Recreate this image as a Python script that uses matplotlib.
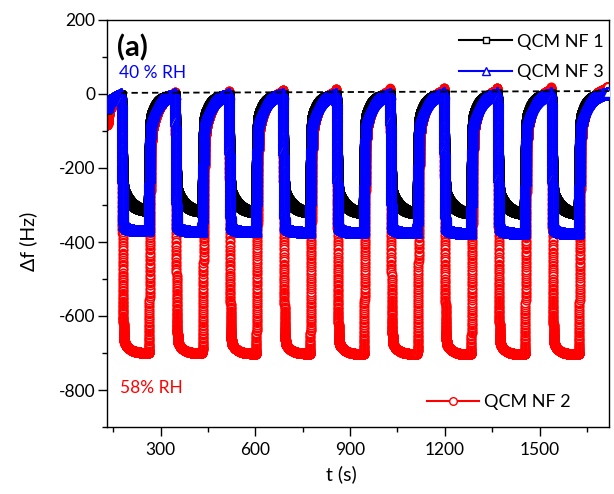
import numpy as np
import matplotlib
matplotlib.use("Agg")
import matplotlib.pyplot as plt
from matplotlib.lines import Line2D
from matplotlib.ticker import MultipleLocator

plt.rcParams['font.family'] = ['Lato', 'DejaVu Sans']
plt.rcParams['axes.unicode_minus'] = False

# ---------------- data ----------------
t_start = 130.0
t_end = 1718.0
# times (s) of the recovery maxima (just before each humidity pulse)
peak_times = [175, 345, 515, 686, 856, 1026, 1196, 1366, 1537, 1712]

# QCM NF 1 (black, 40 % RH)
nf1_peak = [-2, -3, -3, -2, -2, -1, -1, 0, 0, 0]
nf1_fast = [-245, -248, -250, -252, -252, -254, -255, -256, -256]
nf1_end = [-316, -318, -320, -320, -322, -323, -323, -324, -324]
nf1_start = -40

# QCM NF 3 (blue, 40 % RH)
nf3_peak = [2, 3, 3, 4, 4, 4, 5, 5, 5, 6]
nf3_fast = [-340, -342, -343, -344, -345, -345, -346, -346, -347]
nf3_end = [-368, -370, -371, -372, -373, -374, -375, -375, -376]
nf3_start = -35

# QCM NF 2 (red, 58 % RH)
nf2_peak = [0, 5, 8, 12, 14, 15, 16, 17, 18, 20]
nf2_fast = [-650, -652, -654, -655, -655, -656, -656, -657, -657]
nf2_end = [-700, -701, -702, -702, -703, -703, -704, -704, -704]
nf2_start = -85

# dashed baseline
base_t = [175, 1720]
base_y = [3, 8]

x_ticks = [300, 600, 900, 1200, 1500]
y_ticks = [-800, -600, -400, -200, 0, 200]


# ---------------- sensor response between the read levels ----------------
def time_grid(t_low, dt_fine):
    parts = [np.arange(t_start, t_end, 0.1)]
    for P in peak_times[:-1]:
        parts.append(np.arange(P, P + 14, dt_fine))
        parts.append(np.arange(P + t_low, P + t_low + 16, dt_fine))
    return np.unique(np.concatenate(parts))


def response(peaks, fast, end, start_val, t_low, tau_f, tau_s, r_rec, tau_rf, tau_rs, dt_fine):
    t = time_grid(t_low, dt_fine)
    f = np.empty_like(t)
    p0 = peaks[0]
    m = t < peak_times[0]
    u = t[m] - t_start
    f[m] = p0 + (start_val - p0) * (0.5 * np.exp(-(u / 5.0) ** 2) + 0.5 * np.exp(-(u / 30.0) ** 2))
    for i in range(len(fast)):
        P = peak_times[i]
        Pn = peak_times[i + 1]
        me = (t >= P) & (t < P + t_low)
        tau = t[me] - P
        f[me] = (peaks[i] + (fast[i] - peaks[i]) * (1 - np.exp(-(tau / tau_f) ** 2))
                 + (end[i] - fast[i]) * (1 - np.exp(-tau / tau_s)) / (1 - np.exp(-t_low / tau_s)))
        mr = (t >= P + t_low) & (t < Pn)
        u = t[mr] - P - t_low
        f[mr] = peaks[i + 1] + (end[i] - peaks[i + 1]) * (
            (1 - r_rec) * np.exp(-(u / tau_rf) ** 2) + r_rec * np.exp(-u / tau_rs))
    mlast = t >= peak_times[-1]
    f[mlast] = peaks[-1]
    return t, f


t1, y1 = response(nf1_peak, nf1_fast, nf1_end, nf1_start, 85, 4.0, 28, 0.33, 4.0, 20, 0.04)
t3, y3 = response(nf3_peak, nf3_fast, nf3_end, nf3_start, 86, 4.0, 14, 0.30, 4.5, 24, 0.04)
t2, y2 = response(nf2_peak, nf2_fast, nf2_end, nf2_start, 87, 4.5, 18, 0.22, 5.0, 27, 0.06)

# ---------------- figure ----------------
fig = plt.figure(figsize=(6.14, 4.94), dpi=100)
ax = fig.add_axes([107 / 614, 1 - 427 / 494, 502 / 614, 407 / 494])

RED = '#ff0000'
BLUE = '#0000ff'

ax.plot(t2, y2, linestyle='none', marker='o', markersize=6.0, markerfacecolor='white',
        markeredgecolor=RED, markeredgewidth=1.0, zorder=2)
ax.plot(t1, y1, linestyle='none', marker='s', markersize=5.5, markerfacecolor='white',
        markeredgecolor='black', markeredgewidth=1.0, zorder=3)
ax.plot(t3, y3, linestyle='none', marker='^', markersize=6.5, markerfacecolor='white',
        markeredgecolor=BLUE, markeredgewidth=1.0, zorder=4)

ax.plot(base_t, base_y, color='black', linestyle=(0, (3.5, 2.2)), linewidth=1.3, zorder=5)

ax.set_xlim(130, 1720)
ax.set_ylim(-900, 200)
ax.set_xticks(x_ticks)
ax.set_yticks(y_ticks)
ax.xaxis.set_minor_locator(MultipleLocator(150))
ax.yaxis.set_minor_locator(MultipleLocator(100))
ax.tick_params(which='both', direction='out', top=False, right=False, width=1.0, labelsize=12.5)
ax.tick_params(which='major', length=6.5)
ax.tick_params(which='minor', length=3.5)
ax.tick_params(axis='x', pad=4)
ax.tick_params(axis='y', pad=2)
for s in ax.spines.values():
    s.set_linewidth(1.0)

ax.set_xlabel('t (s)', fontsize=14)
ax.xaxis.set_label_coords((341 - 107) / 502, (427 - 465) / 407)
ax.set_ylabel('Δf (Hz)', fontsize=14)
ax.yaxis.label.set_verticalalignment('center')
ax.yaxis.label.set_horizontalalignment('center')
ax.yaxis.set_label_coords((28 - 107) / 502, (427 - 241) / 407)

ax.text((117 - 107) / 502, (427 - 48) / 407, '(a)', transform=ax.transAxes,
        fontsize=21, fontweight='bold', ha='left', va='center')
ax.text((119 - 107) / 502, (427 - 73.5) / 407, '40 % RH', transform=ax.transAxes,
        fontsize=12.5, color=BLUE, ha='left', va='center')
ax.text((120 - 107) / 502, (427 - 388) / 407, '58% RH', transform=ax.transAxes,
        fontsize=12.5, color=RED, ha='left', va='center')

h1 = Line2D([], [], color='black', linewidth=1.5, marker='s', markersize=4.5,
            markerfacecolor='white', markeredgecolor='black', markeredgewidth=1.0)
h3 = Line2D([], [], color=BLUE, linewidth=1.5, marker='^', markersize=6,
            markerfacecolor='white', markeredgecolor=BLUE, markeredgewidth=1.0)
h2 = Line2D([], [], color=RED, linewidth=1.5, marker='o', markersize=5.5,
            markerfacecolor='white', markeredgecolor=RED, markeredgewidth=1.0)

leg1 = fig.legend([h1, h3], ['QCM NF 1', 'QCM NF 3'], loc='center right',
                  bbox_to_anchor=(604 / 614, 1 - 57 / 494), frameon=False, fontsize=13,
                  handlelength=2.9, handletextpad=0.3, labelspacing=0.8,
                  borderpad=0, borderaxespad=0)
leg2 = fig.legend([h2], ['QCM NF 2'], loc='center right',
                  bbox_to_anchor=(571 / 614, 1 - 402 / 494), frameon=False, fontsize=13,
                  handlelength=2.9, handletextpad=0.3, borderpad=0, borderaxespad=0)

fig.savefig('out.png', dpi=100)
